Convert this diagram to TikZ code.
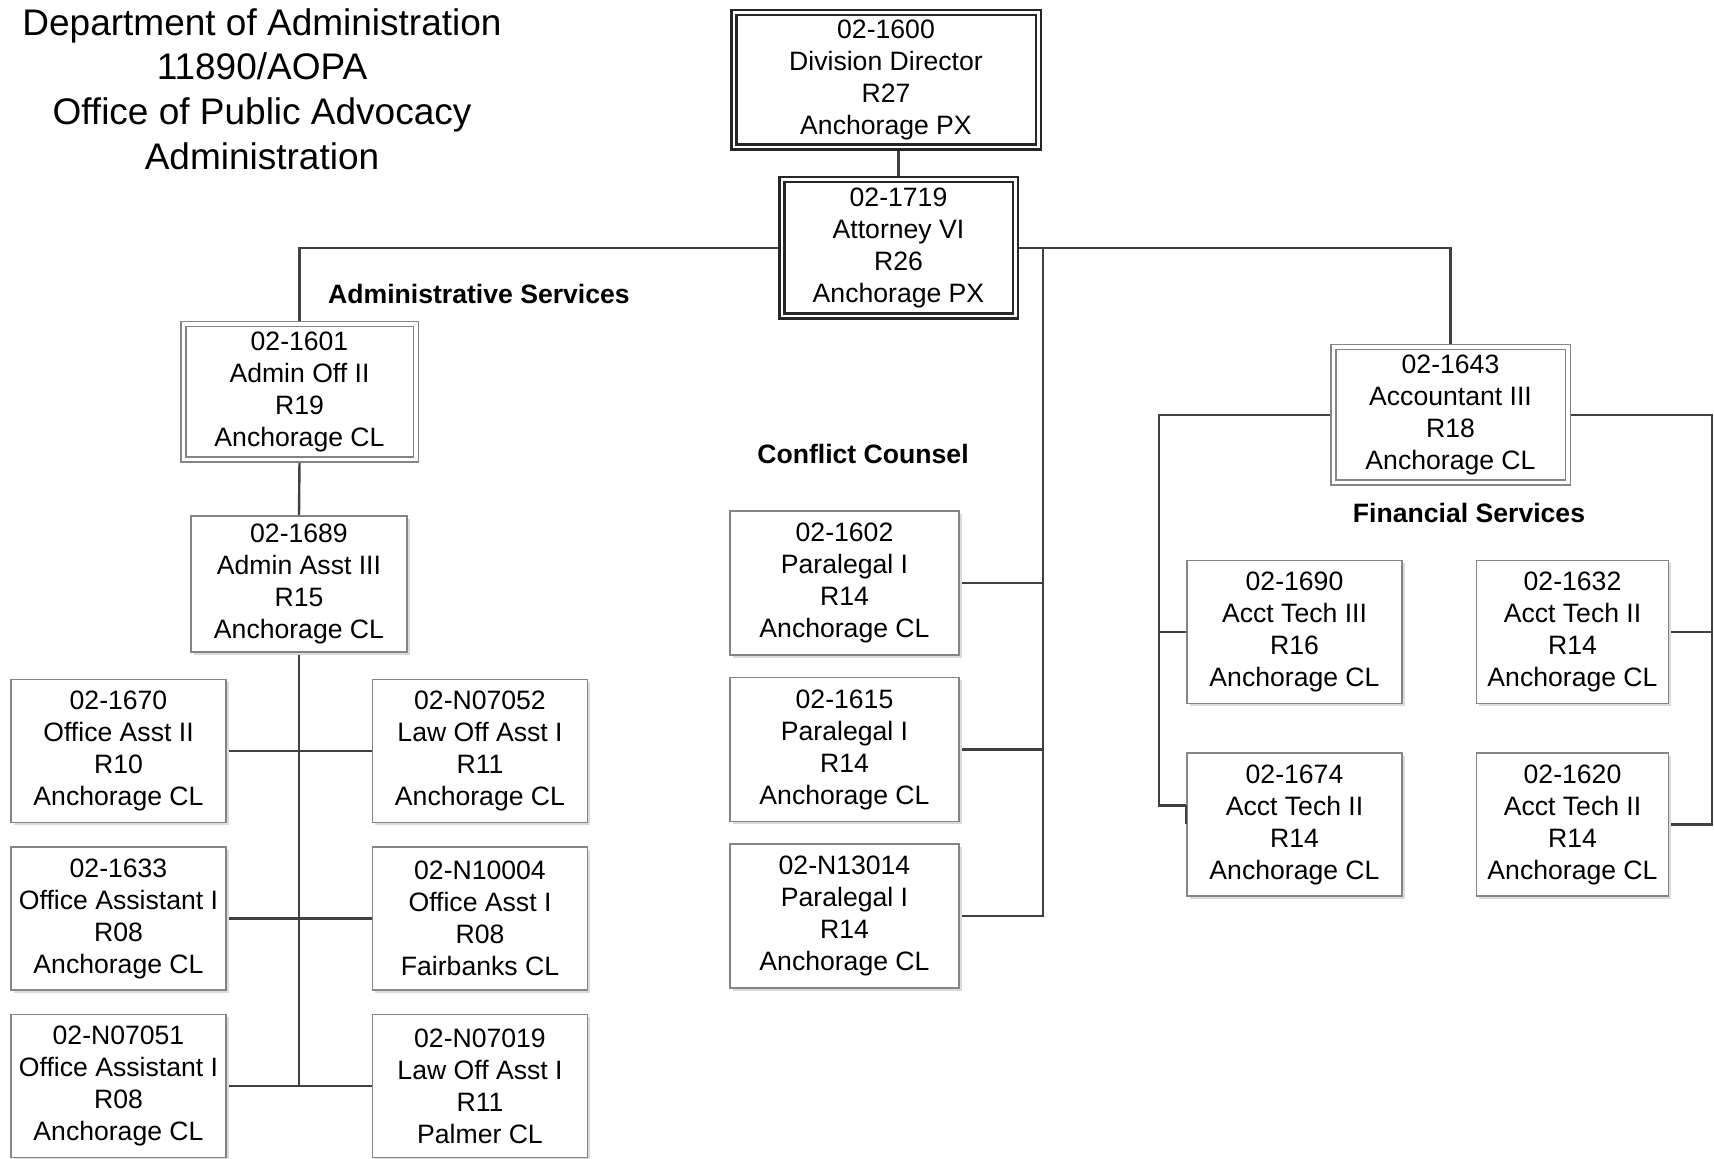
\documentclass[tikz,border=0pt]{standalone}
\usepackage{fontspec}
\setmainfont{Liberation Sans}
\usepackage{tikz}
\usetikzlibrary{positioning}
\usetikzlibrary{shadows,calc,backgrounds}
\usepackage{xcolor}
\definecolor{frame}{HTML}{858585}
\definecolor{wire}{HTML}{404040}
\tikzset{
  basic/.style  = {draw=frame, line width=0.75pt, fill=white, align=center,
                   font=\fontsize{13.3}{16}\selectfont, inner sep=2pt,
                   minimum width=107.5pt, minimum height=71.5pt,
                   drop shadow={shadow xshift=1.3pt, shadow yshift=-1.3pt,
                                fill=black!14, opacity=1}},
  chief/.style  = {basic, draw=black!85, line width=1.25pt, double=white,
                   double distance=1.25pt},
  lead/.style   = {basic, double=white, double distance=1.75pt},
  dept/.style   = {font=\bfseries\fontsize{13.3}{16}\selectfont},
  link/.style   = {draw=wire, line width=1.2pt}
}

\begin{document}
\begin{tikzpicture}[x=0.5pt, y=-0.5pt, node distance=12pt]
\useasboundingbox (0,0) rectangle (1714,1159);

\node[align=center, inner sep=0pt, font=\fontsize{18.5}{22.3}\selectfont] (title) at (262,89)
  {Department of Administration\\11890/AOPA\\Office of Public Advocacy\\Administration};

\node[chief, minimum width=152.25pt, minimum height=67.25pt] (n1600) at (886,80) {02-1600\\Division Director\\R27\\Anchorage PX};
\node[chief, minimum width=116.75pt, minimum height=68.25pt] (n1719) at (898.5,248) {02-1719\\Attorney VI\\R26\\Anchorage PX};

% administrative services
\node[dept] (adm) at (479,294) {Administrative Services};
\node[lead, minimum width=116.25pt, minimum height=67.75pt] (n1601) at (299.5,392) {02-1601\\Admin Off II\\R19\\Anchorage CL};
\node[basic, minimum width=108pt, minimum height=68pt] (n1689) at (299,584) {02-1689\\Admin Asst III\\R15\\Anchorage CL};
\node[basic] (n1670) at (118.5,751) {02-1670\\Office Asst II\\R10\\Anchorage CL};
\node[basic, below=11.5pt of n1670] (n1633) {02-1633\\Office Assistant I\\R08\\Anchorage CL};
\node[basic, below=11.5pt of n1633] (n7051) {02-N07051\\Office Assistant I\\R08\\Anchorage CL};
\node[basic, right=72.5pt of n1670] (n7052) {02-N07052\\Law Off Asst I\\R11\\Anchorage CL};
\node[basic, right=72.5pt of n1633] (n10004) {02-N10004\\Office Asst I\\R08\\Fairbanks CL};
\node[basic, right=72.5pt of n7051] (n7019) {02-N07019\\Law Off Asst I\\R11\\Palmer CL};

% conflict counsel
\node[dept] (cc) at (863,454) {Conflict Counsel};
\node[basic, minimum width=114.5pt, minimum height=72pt] (n1602) at (844.5,583) {02-1602\\Paralegal I\\R14\\Anchorage CL};
\node[basic, minimum width=114.5pt, minimum height=72pt, below=10.5pt of n1602] (n1615) {02-1615\\Paralegal I\\R14\\Anchorage CL};
\node[basic, minimum width=114.5pt, minimum height=72pt, below=10.5pt of n1615] (n13014) {02-N13014\\Paralegal I\\R14\\Anchorage CL};

% financial services
\node[lead, minimum width=117.25pt, minimum height=67.75pt] (n1643) at (1450.5,415) {02-1643\\Accountant III\\R18\\Anchorage CL};
\node[dept] (fs) at (1469,513) {Financial Services};
\node[basic] (n1690) at (1294.5,632) {02-1690\\Acct Tech III\\R16\\Anchorage CL};
\node[basic, below=24pt of n1690] (n1674) {02-1674\\Acct Tech II\\R14\\Anchorage CL};
\node[basic, minimum width=96pt, right=36.5pt of n1690] (n1632) {02-1632\\Acct Tech II\\R14\\Anchorage CL};
\node[basic, minimum width=96pt, right=36.5pt of n1674] (n1620) {02-1620\\Acct Tech II\\R14\\Anchorage CL};

\coordinate (cbus) at (1043,248);
\coordinate (fbusl) at (1159,415);
\coordinate (fbusr) at (1712,415);

\begin{scope}[on background layer]
\path [draw, link] (n1719.north) -- (n1719.north |- n1600.south);
\path [draw, link] (n1719.west) -| (n1601.north);
\path [draw, link] (n1719.east) -| (n1643.north);

\path [draw, link] (n1601.south) -- (n1689.north);
\path [draw, link] (n1689.south) -- (n1689.south |- n7051.east);
\path [draw, link] (n1670.east) -- (n7052.west);
\path [draw, link] (n1633.east) -- (n10004.west);
\path [draw, link] (n7051.east) -- (n7019.west);

\path [draw, link] (cbus) |- (n1602.east);
\path [draw, link] (cbus) |- (n1615.east);
\path [draw, link] (cbus) |- (n13014.east);

\path [draw, link] (n1643.west) -- (fbusl) |- (n1690.west);
\path [draw, link] (fbusl) |- (n1674.170);
\path [draw, link] (n1643.east) -- (fbusr) |- (n1632.east);
\path [draw, link] (fbusr) |- (n1620.east);
\end{scope}
\path [draw, link] (n1674.170) -- (n1674.west);

\end{tikzpicture}
\end{document}
